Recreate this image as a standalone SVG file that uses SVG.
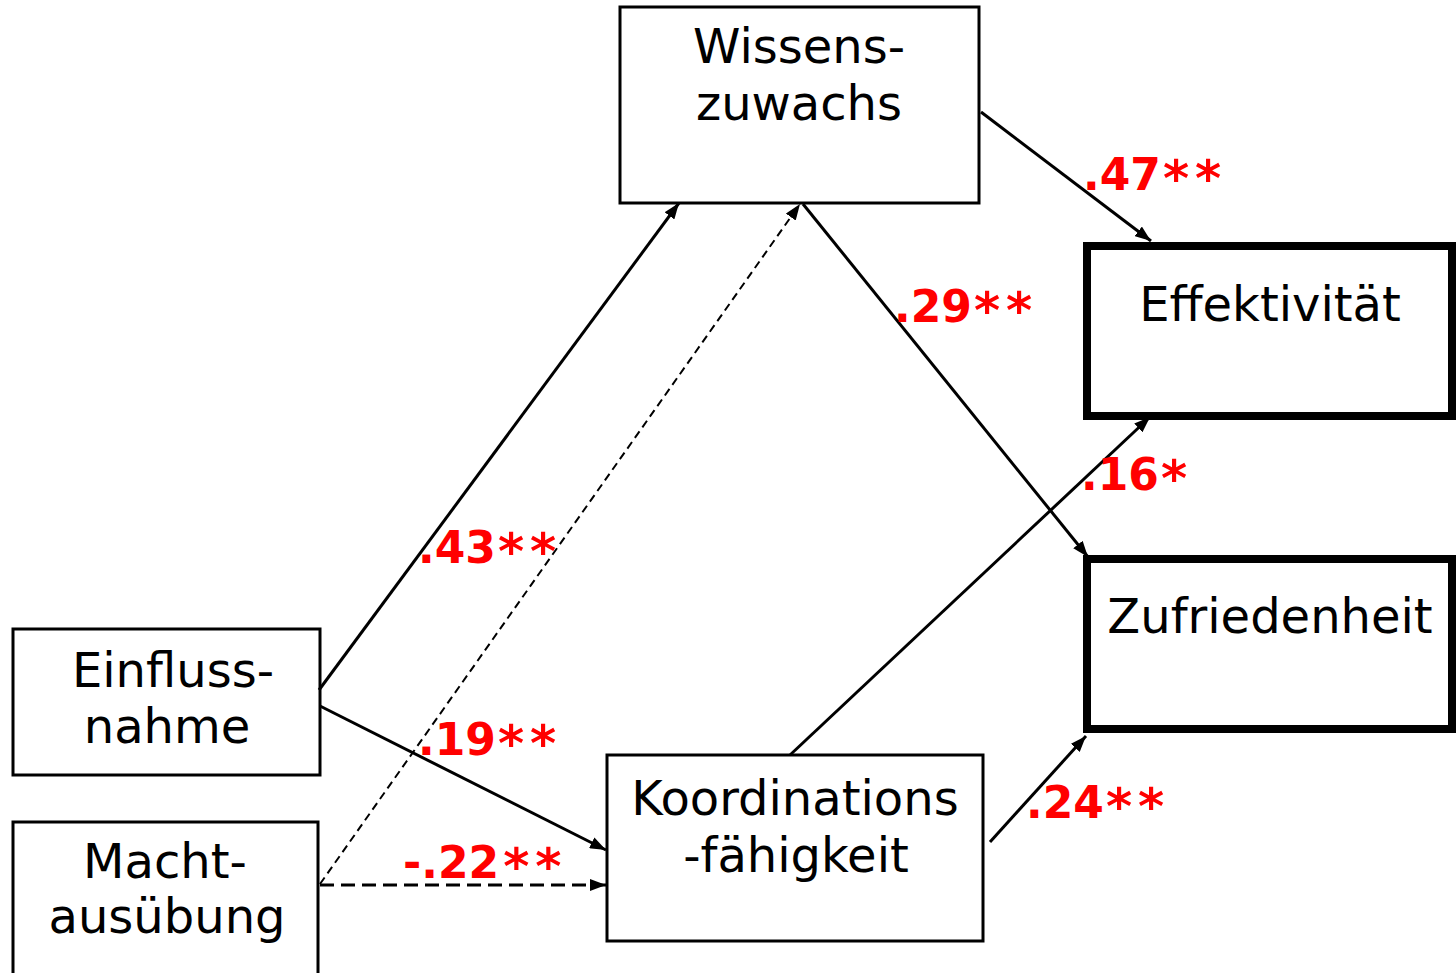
<svg xmlns="http://www.w3.org/2000/svg" width="1456" height="973" viewBox="0 0 1456 973">
<style>
.box{fill:#fff;stroke:#000;stroke-width:3}
.thick{fill:#fff;stroke:#000;stroke-width:8}
.t{font-family:"DejaVu Sans","Liberation Sans",sans-serif;font-size:48px;fill:#000;text-anchor:middle}
.c{fill:none;stroke:#000;stroke-width:3}
.d1{fill:none;stroke:#000;stroke-width:2;stroke-dasharray:8 5}
.d2{fill:none;stroke:#000;stroke-width:3;stroke-dasharray:14 7}
.l{font-family:"DejaVu Sans","Liberation Sans",sans-serif;font-weight:bold;font-size:44px;fill:#ff0000}
.a{font-size:50px;letter-spacing:6px}
</style>
<defs>
<marker id="arr" viewBox="0 0 16 12" refX="16" refY="6" markerWidth="16" markerHeight="12" markerUnits="userSpaceOnUse" orient="auto">
<path d="M0,0 L16,6 L0,12 z" fill="#000"/>
</marker>
</defs>
<rect width="1456" height="973" fill="#fff"/>
<g id="wissenszuwachs">
<rect class="box" x="620" y="7" width="359" height="196"/>
<text class="t" x="799" y="63">Wissens-</text>
<text class="t" x="799" y="120">zuwachs</text>
</g>
<g id="effektivitaet">
<rect class="thick" x="1087" y="246" width="365" height="170"/>
<text class="t" x="1270" y="321">Effektivität</text>
</g>
<g id="zufriedenheit">
<rect class="thick" x="1087" y="559" width="365" height="170"/>
<text class="t" x="1270" y="633">Zufriedenheit</text>
</g>
<g id="einflussnahme">
<rect class="box" x="13" y="629" width="307" height="146"/>
<text class="t" x="173" y="687">Einfluss-</text>
<text class="t" x="167" y="743">nahme</text>
</g>
<g id="machtausuebung">
<rect class="box" x="13" y="822" width="305" height="200"/>
<text class="t" x="165" y="878">Macht-</text>
<text class="t" x="167" y="933">ausübung</text>
</g>
<g id="koordinationsfaehigkeit">
<rect class="box" x="607" y="755" width="376" height="186"/>
<text class="t" x="795" y="815">Koordinations</text>
<text class="t" x="796" y="872">-fähigkeit</text>
</g>
<g id="connectors">
<path class="c" d="M319,690 L679,203" marker-end="url(#arr)"/>
<path class="c" d="M320,706 L606,850" marker-end="url(#arr)"/>
<path class="d1" d="M320,884 L800,204" marker-end="url(#arr)"/>
<path class="d2" d="M320,885 L606,885" marker-end="url(#arr)"/>
<path class="c" d="M981,112 L1151,241" marker-end="url(#arr)"/>
<path class="c" d="M803,204 L1088,557" marker-end="url(#arr)"/>
<path class="c" d="M790,755 L1150,417" marker-end="url(#arr)"/>
<path class="c" d="M990,842 L1086,736" marker-end="url(#arr)"/>
</g>
<g id="labels">
<text class="l" x="1083" y="190">.47<tspan class="a" dx="2" dy="6">**</tspan></text>
<text class="l" x="894" y="322">.29<tspan class="a" dx="2" dy="6">**</tspan></text>
<text class="l" x="1081" y="490">.16<tspan class="a" dx="2" dy="6">*</tspan></text>
<text class="l" x="418" y="563">.43<tspan class="a" dx="2" dy="6">**</tspan></text>
<text class="l" x="418" y="755">.19<tspan class="a" dx="2" dy="6">**</tspan></text>
<text class="l" x="403" y="878">-.22<tspan class="a" dx="4" dy="6">**</tspan></text>
<text class="l" x="1026" y="818">.24<tspan class="a" dx="2" dy="6">**</tspan></text>
</g>
</svg>
